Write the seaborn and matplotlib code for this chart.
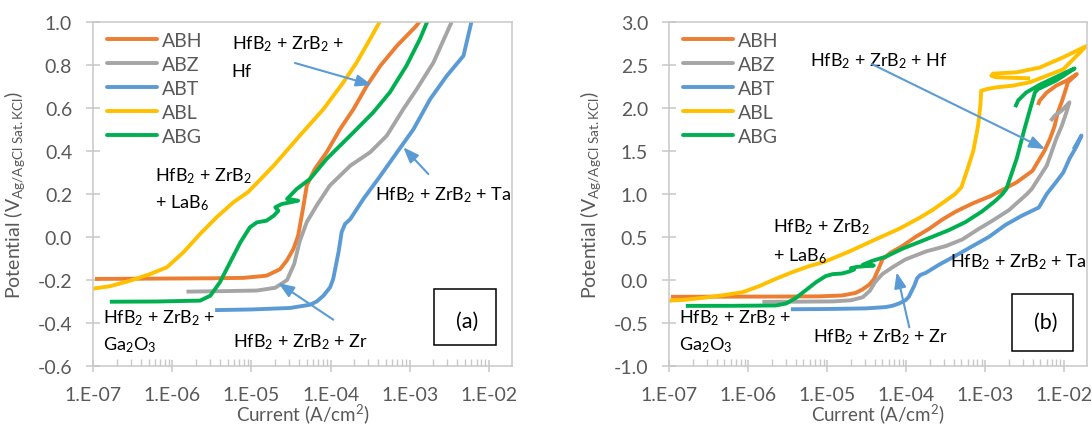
import numpy as np
import pandas as pd
import matplotlib
matplotlib.use("Agg")
import matplotlib.pyplot as plt
import seaborn as sns
from matplotlib.lines import Line2D
from matplotlib.patches import Rectangle
from matplotlib.ticker import FixedLocator, FixedFormatter, LogLocator, NullFormatter

# ---------------- polarization data (current density A/cm2, potential V vs Ag/AgCl) -------------
samples = ["ABH", "ABZ", "ABT", "ABL", "ABG"]
colors = ["#ED7D31", "#A5A5A5", "#5B9BD5", "#FFC000", "#00B050"]

abh_current = [1.05e-7, 1.0e-6, 3.16e-6, 7.94e-6, 1.55e-5, 2.29e-5, 2.79e-5, 3.39e-5, 3.89e-5,
               4.17e-5, 4.47e-5, 5.01e-5, 6.31e-5, 8.91e-5, 1.32e-4, 1.95e-4, 2.88e-4, 4.27e-4,
               6.92e-4, 1.20e-3, 2.51e-3, 3.98e-3, 5.62e-3, 6.61e-3, 7.59e-3, 8.32e-3, 9.33e-3,
               1.02e-2, 1.12e-2, 1.45e-2,
               1.07e-2, 7.94e-3, 6.03e-3, 4.90e-3, 4.68e-3]
abh_potential = [-0.195, -0.193, -0.192, -0.19, -0.18, -0.15, -0.11, -0.056, 0.006,
                 0.068, 0.13, 0.24, 0.316, 0.394, 0.502, 0.595, 0.704, 0.797,
                 0.89, 0.98, 1.136, 1.27, 1.50, 1.64, 1.79, 1.95, 2.07,
                 2.18, 2.30, 2.395,
                 2.317, 2.26, 2.18, 2.085, 2.035]

abz_current = [1.51e-6, 3.98e-6, 1.17e-5, 2.0e-5, 2.82e-5, 3.47e-5, 4.07e-5, 5.01e-5, 6.76e-5,
               9.77e-5, 1.78e-4, 3.16e-4, 5.13e-4, 8.32e-4, 1.23e-3, 2.0e-3, 3.39e-3, 3.89e-3,
               6.03e-3, 7.94e-3, 9.33e-3, 1.07e-2, 1.17e-2,
               9.33e-3, 7.59e-3, 6.76e-3]
abz_potential = [-0.254, -0.252, -0.249, -0.236, -0.20, -0.125, -0.02, 0.07, 0.15,
                 0.239, 0.332, 0.394, 0.471, 0.595, 0.688, 0.812, 1.0, 1.058,
                 1.33, 1.64, 1.79, 1.95, 2.066,
                 1.97, 1.91, 1.85]

abt_current = [3.47e-6, 1.0e-5, 3.09e-5, 5.50e-5, 6.68e-5, 8.13e-5, 9.86e-5, 1.08e-4, 1.26e-4,
               1.38e-4, 1.52e-4, 1.78e-4, 2.60e-4, 4.27e-4, 6.92e-4, 1.12e-3, 1.82e-3, 2.95e-3,
               4.79e-3, 6.03e-3, 7.94e-3, 9.77e-3, 1.17e-2, 1.45e-2, 1.66e-2,
               1.48e-2, 1.32e-2]
abt_potential = [-0.34, -0.337, -0.33, -0.315, -0.30, -0.273, -0.234, -0.195, -0.071,
                 0.022, 0.06, 0.084, 0.177, 0.285, 0.394, 0.502, 0.642, 0.75,
                 0.843, 1.0, 1.14, 1.25, 1.41, 1.56, 1.68,
                 1.60, 1.52]

abl_current = [9.12e-8, 1.62e-7, 2.95e-7, 5.25e-7, 8.51e-7, 1.38e-6, 2.24e-6, 3.63e-6, 5.89e-6,
               9.12e-6, 1.91e-5, 4.07e-5, 8.13e-5, 1.45e-4, 2.14e-4, 3.16e-4, 4.17e-4, 5.01e-4,
               6.03e-4, 7.08e-4, 8.13e-4, 8.71e-4, 8.91e-4, 1.05e-3, 1.38e-3, 2.24e-3, 3.72e-3,
               9.77e-3, 1.91e-2,
               9.77e-3, 4.90e-3, 2.51e-3, 1.26e-3, 1.20e-3, 1.38e-3, 3.72e-3]
abl_potential = [-0.242, -0.229, -0.203, -0.172, -0.141, -0.071, 0.014, 0.092, 0.161,
                 0.21, 0.332, 0.471, 0.595, 0.719, 0.812, 0.921, 1.0, 1.08,
                 1.30, 1.50, 1.79, 2.03, 2.20, 2.22, 2.24, 2.26, 2.30,
                 2.45, 2.72,
                 2.59, 2.47, 2.415, 2.40, 2.376, 2.357, 2.345]

abg_current = [1.62e-7, 6.31e-7, 2.24e-6, 3.02e-6, 3.98e-6, 5.37e-6, 7.24e-6, 9.55e-6, 1.17e-5,
               1.55e-5, 1.91e-5, 2.19e-5, 2.0e-5, 2.40e-5, 3.89e-5, 2.82e-5, 3.72e-5, 5.50e-5,
               8.91e-5, 1.95e-4, 3.47e-4, 5.62e-4, 9.12e-4, 1.35e-3, 1.66e-3, 1.86e-3, 2.51e-3,
               3.16e-3, 3.72e-3, 4.27e-3, 4.68e-3, 7.94e-3, 1.36e-2,
               9.77e-3, 4.90e-3, 3.31e-3, 2.63e-3, 2.40e-3]
abg_potential = [-0.301, -0.300, -0.296, -0.273, -0.211, -0.118, -0.025, 0.045, 0.068,
                 0.076, 0.099, 0.122, 0.138, 0.153, 0.169, 0.177, 0.223, 0.27,
                 0.363, 0.487, 0.58, 0.673, 0.797, 0.921, 1.0, 1.06, 1.41,
                 1.76, 1.99, 2.18, 2.22, 2.32, 2.46,
                 2.40, 2.27, 2.18, 2.09, 2.01]

x_tick_values = [1e-7, 1e-6, 1e-5, 1e-4, 1e-3, 1e-2]
x_tick_labels = ["1.E-07", "1.E-06", "1.E-05", "1.E-04", "1.E-03", "1.E-02"]
y_ticks_a = [-0.6, -0.4, -0.2, 0.0, 0.2, 0.4, 0.6, 0.8, 1.0]
y_ticks_b = [-1.0, -0.5, 0.0, 0.5, 1.0, 1.5, 2.0, 2.5, 3.0]

# ---------------- long-form table ----------------
series = {
    "ABH": (abh_current, abh_potential),
    "ABZ": (abz_current, abz_potential),
    "ABT": (abt_current, abt_potential),
    "ABL": (abl_current, abl_potential),
    "ABG": (abg_current, abg_potential),
}
frames = []
for name, (cur, pot) in series.items():
    frames.append(pd.DataFrame({"sample": name, "current": cur, "potential": pot}))
df = pd.concat(frames, ignore_index=True)

# ---------------- style ----------------
sns.set_theme(style="white")
plt.rcParams["font.family"] = ["Lato", "DejaVu Sans"]
plt.rcParams["mathtext.fontset"] = "custom"
plt.rcParams["mathtext.rm"] = "Lato"
plt.rcParams["mathtext.it"] = "Lato:italic"
plt.rcParams["mathtext.bf"] = "Lato:bold"
plt.rcParams["axes.unicode_minus"] = False

GRAY_TXT = "#595959"
SPINE = "#C8C8C8"
ARROW = "#5B9BD5"
FS = 14
FS_NOTE = 13
LW = 2.8

fig = plt.figure(figsize=(10.92, 4.27), dpi=100)
ax_a = fig.add_axes([0.0854, 0.1405, 0.3832, 0.8056])
ax_b = fig.add_axes([0.6129, 0.1405, 0.3825, 0.8056])

palette = dict(zip(samples, colors))


def draw_panel(ax, ylim, yticks):
    sns.lineplot(data=df, x="current", y="potential", hue="sample", hue_order=samples,
                 palette=palette, sort=False, estimator=None, linewidth=LW,
                 ax=ax, legend=False)
    for ln in ax.get_lines():
        ln.set_solid_joinstyle("round")
        ln.set_solid_capstyle("butt")
    ax.set_xscale("log")
    ax.set_xlim(1e-7, 0.0195)
    ax.set_ylim(*ylim)
    ax.xaxis.set_major_locator(FixedLocator(x_tick_values))
    ax.xaxis.set_major_formatter(FixedFormatter(x_tick_labels))
    ax.xaxis.set_minor_locator(LogLocator(base=10, subs=np.arange(2, 10), numticks=20))
    ax.xaxis.set_minor_formatter(NullFormatter())
    ax.set_yticks(yticks)
    ax.set_yticklabels([f"{v:.1f}" for v in yticks])
    for s in ax.spines.values():
        s.set_visible(True)
        s.set_color(SPINE)
        s.set_linewidth(1.1)
    ax.tick_params(axis="x", which="major", direction="inout", length=8.6, width=1.1,
                   color=SPINE, labelsize=FS, labelcolor=GRAY_TXT, pad=10, bottom=True)
    ax.tick_params(axis="x", which="minor", direction="in", length=5, width=1.0,
                   color=SPINE, bottom=True)
    ax.tick_params(axis="y", which="major", direction="inout", length=9.4, width=1.1,
                   color=SPINE, labelsize=FS, labelcolor=GRAY_TXT, pad=10.5, left=True)
    ax.set_xlabel(r"Current (A/cm$^2$)", fontsize=13.5, color=GRAY_TXT)
    ax.set_ylabel(r"Potential (V$_{\mathregular{Ag/AgCl\ Sat.KCl}}$)", fontsize=FS, color=GRAY_TXT)
    ax.xaxis.set_label_coords(0.5, -0.102)
    ax.yaxis.set_label_coords(-0.158, 0.5)
    handles = [Line2D([0], [0], color=c, lw=LW) for c in colors]
    ax.legend(handles, samples, loc="upper left", bbox_to_anchor=(0.032, 0.972),
              frameon=False, borderaxespad=0, borderpad=0, handlelength=2.6,
              handletextpad=0.25, labelspacing=0.36, fontsize=FS, labelcolor=GRAY_TXT)


def label(ax, x, y, s):
    ax.text(x, y, s, transform=ax.transAxes, ha="left", va="baseline",
            fontsize=FS_NOTE, color="black", clip_on=False)


def arrow(ax, tail, head):
    ax.annotate("", xy=head, xycoords="axes fraction", xytext=tail, textcoords="axes fraction",
                arrowprops=dict(arrowstyle="-|>,head_length=0.47,head_width=0.18",
                                mutation_scale=20, color=ARROW, lw=1.5,
                                shrinkA=0, shrinkB=0))


def panel_tag(ax, rect, center, s):
    ax.add_patch(Rectangle(rect[:2], rect[2], rect[3], transform=ax.transAxes,
                           fill=False, edgecolor="black", lw=1.1, clip_on=False))
    ax.text(center[0], center[1], s, transform=ax.transAxes, ha="center", va="center",
            fontsize=15.5, color="black")


draw_panel(ax_a, (-0.6, 1.0), y_ticks_a)
draw_panel(ax_b, (-1.0, 3.0), y_ticks_b)

# panel (a) annotations
label(ax_a, 0.331, 0.9235, r"HfB$_2$ + ZrB$_2$ +")
label(ax_a, 0.331, 0.8439, "Hf")
arrow(ax_a, (0.4822, 0.8808), (0.6655, 0.8169))
label(ax_a, 0.6734, 0.4846, r"HfB$_2$ + ZrB$_2$ + Ta")
arrow(ax_a, (0.8007, 0.5581), (0.741, 0.6358))
label(ax_a, 0.1477, 0.5387, r"HfB$_2$ + ZrB$_2$")
label(ax_a, 0.1477, 0.4613, r"+ LaB$_6$")
label(ax_a, 0.0241, 0.1259, r"HfB$_2$ + ZrB$_2$ +")
label(ax_a, 0.0241, 0.0485, r"Ga$_2$O$_3$")
label(ax_a, 0.3333, 0.0581, r"HfB$_2$ + ZrB$_2$ + Zr")
arrow(ax_a, (0.5737, 0.1346), (0.4423, 0.2413))
panel_tag(ax_a, (0.8143, 0.0619, 0.1474, 0.162), (0.8925, 0.1317), "(a)")

# panel (b) annotations
label(ax_b, 0.3368, 0.875, r"HfB$_2$ + ZrB$_2$ + Hf")
arrow(ax_b, (0.4846, 0.8779), (0.8995, 0.6308))
label(ax_b, 0.249, 0.3904, r"HfB$_2$ + ZrB$_2$")
label(ax_b, 0.249, 0.3081, r"+ LaB$_6$")
label(ax_b, 0.6725, 0.2907, r"HfB$_2$ + ZrB$_2$ + Ta")
label(ax_b, 0.3447, 0.0727, r"HfB$_2$ + ZrB$_2$ + Zr")
arrow(ax_b, (0.5746, 0.1125), (0.5444, 0.2724))
label(ax_b, 0.0239, 0.1259, r"HfB$_2$ + ZrB$_2$ +")
label(ax_b, 0.0239, 0.0485, r"Ga$_2$O$_3$")
panel_tag(ax_b, (0.8197, 0.0445, 0.1475, 0.165), (0.9018, 0.127), "(b)")

fig.savefig("out.png", dpi=100)
